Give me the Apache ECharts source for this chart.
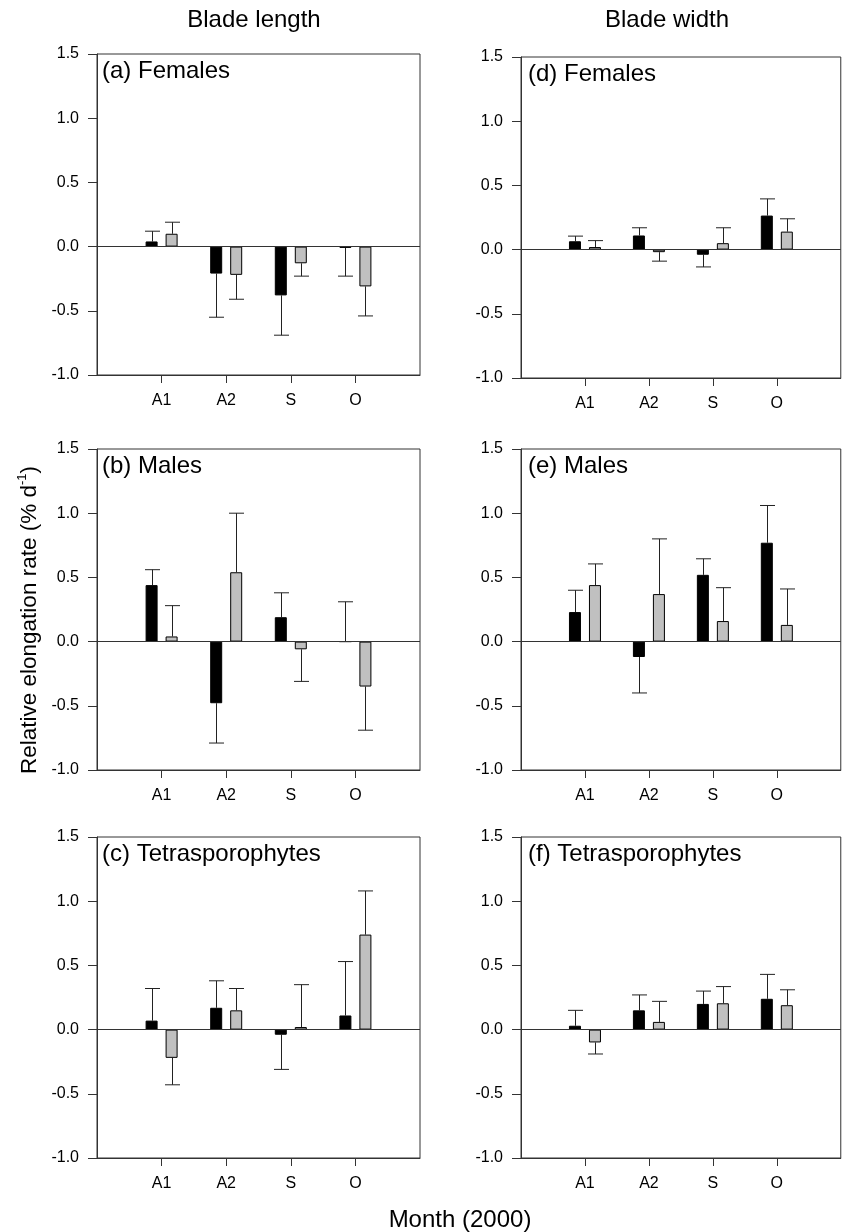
<!DOCTYPE html>
<html>
<head>
<meta charset="utf-8">
<script src="https://cdn.jsdelivr.net/npm/echarts@6/dist/echarts.min.js"></script>
<style>
  html, body { margin: 0; padding: 0; background: #fff; }
  #main { width: 846px; height: 1232px; }
</style>
</head>
<body>
<div id="main"></div>
<script>
var months = ['A1', 'A2', 'S', 'O'];

// blade length (left column): black bars / grey bars, and their error bars
var lenFemBlack = [0.04, -0.21, -0.38, -0.01];
var lenFemBlackErr = [0.08, 0.34, 0.31, 0.22];
var lenFemGrey = [0.10, -0.22, -0.13, -0.31];
var lenFemGreyErr = [0.09, 0.19, 0.10, 0.23];

var lenMaleBlack = [0.44, -0.48, 0.19, 0.00];
var lenMaleBlackErr = [0.12, 0.31, 0.19, 0.31];
var lenMaleGrey = [0.04, 0.54, -0.06, -0.35];
var lenMaleGreyErr = [0.24, 0.46, 0.25, 0.34];

var lenTetBlack = [0.07, 0.17, -0.04, 0.11];
var lenTetBlackErr = [0.25, 0.21, 0.27, 0.42];
var lenTetGrey = [-0.22, 0.15, 0.02, 0.74];
var lenTetGreyErr = [0.21, 0.17, 0.33, 0.34];

// blade width (right column)
var widFemBlack = [0.065, 0.11, -0.04, 0.265];
var widFemBlackErr = [0.04, 0.06, 0.095, 0.13];
var widFemGrey = [0.02, -0.02, 0.05, 0.14];
var widFemGreyErr = [0.05, 0.07, 0.12, 0.10];

var widMaleBlack = [0.23, -0.12, 0.52, 0.77];
var widMaleBlackErr = [0.17, 0.28, 0.125, 0.29];
var widMaleGrey = [0.44, 0.37, 0.16, 0.13];
var widMaleGreyErr = [0.165, 0.43, 0.26, 0.28];

var widTetBlack = [0.03, 0.15, 0.20, 0.24];
var widTetBlackErr = [0.12, 0.12, 0.10, 0.19];
var widTetGrey = [-0.10, 0.06, 0.205, 0.19];
var widTetGreyErr = [0.09, 0.16, 0.13, 0.12];

var yTicks = [-1.0, -0.5, 0.0, 0.5, 1.0, 1.5];

var panels = [
  { label: '(a) Females', grid: { left: 97, top: 54, width: 323, height: 321 }, black: lenFemBlack, blackErr: lenFemBlackErr, grey: lenFemGrey, greyErr: lenFemGreyErr },
  { label: '(b) Males', grid: { left: 97, top: 449, width: 323, height: 321 }, black: lenMaleBlack, blackErr: lenMaleBlackErr, grey: lenMaleGrey, greyErr: lenMaleGreyErr },
  { label: '(c) Tetrasporophytes', grid: { left: 97, top: 837, width: 323, height: 321 }, black: lenTetBlack, blackErr: lenTetBlackErr, grey: lenTetGrey, greyErr: lenTetGreyErr },
  { label: '(d) Females', grid: { left: 521, top: 57, width: 322, height: 321 }, black: widFemBlack, blackErr: widFemBlackErr, grey: widFemGrey, greyErr: widFemGreyErr },
  { label: '(e) Males', grid: { left: 521, top: 449, width: 322, height: 321 }, black: widMaleBlack, blackErr: widMaleBlackErr, grey: widMaleGrey, greyErr: widMaleGreyErr },
  { label: '(f) Tetrasporophytes', grid: { left: 521, top: 837, width: 322, height: 321 }, black: widTetBlack, blackErr: widTetBlackErr, grey: widTetGrey, greyErr: widTetGreyErr }
];

var FONT = '"Liberation Sans", Arial, sans-serif';
var AXIS = '#333';
var BAR_W = 12;
var BAR_GAP_PX = 8;
var CAP = 7.5;

// empty slots at both ends so A1..O sit at 1/5 .. 4/5 of the box
var cats = [''].concat(months).concat([' ']);

function pad(arr) {
  return ['-'].concat(arr).concat(['-']);
}

function errData(vals, errs) {
  return vals.map(function (v, i) { return [i + 1, v, errs[i]]; });
}

function errSeries(idx, vals, errs, side) {
  return {
    type: 'custom',
    xAxisIndex: idx,
    yAxisIndex: idx,
    z: 1,
    silent: true,
    data: errData(vals, errs),
    renderItem: function (params, api) {
      var v = api.value(1);
      var e = api.value(2);
      var dir = v >= 0 ? 1 : -1;
      var p0 = api.coord([api.value(0), v]);
      var p1 = api.coord([api.value(0), v + dir * e]);
      var cx = Math.round(p0[0] + side * (BAR_W / 2 + BAR_GAP_PX / 2)) + 0.5;
      var st = { stroke: '#222', lineWidth: 1 };
      return {
        type: 'group',
        children: [
          { type: 'line', shape: { x1: cx, y1: p0[1], x2: cx, y2: p1[1] }, style: st },
          { type: 'line', shape: { x1: cx - CAP, y1: p1[1], x2: cx + CAP, y2: p1[1] }, style: st }
        ]
      };
    }
  };
}

var grids = [], xAxes = [], yAxes = [], series = [], graphics = [];

panels.forEach(function (p, i) {
  grids.push({
    left: p.grid.left, top: p.grid.top, width: p.grid.width, height: p.grid.height,
    show: true, borderColor: AXIS, borderWidth: 1, backgroundColor: 'transparent'
  });
  xAxes.push({
    type: 'category',
    gridIndex: i,
    data: cats,
    boundaryGap: false,
    axisLine: { onZero: false, lineStyle: { color: AXIS, width: 1 } },
    axisTick: {
      length: 8,
      lineStyle: { color: AXIS },
      interval: function (idx) { return idx >= 1 && idx <= 4; }
    },
    axisLabel: {
      interval: 0, margin: 18, color: '#000', fontSize: 16, fontFamily: FONT
    },
    splitLine: { show: false }
  });
  yAxes.push({
    type: 'value',
    gridIndex: i,
    min: yTicks[0],
    max: yTicks[yTicks.length - 1],
    interval: 0.5,
    axisLine: { show: true, onZero: false, lineStyle: { color: AXIS, width: 1 } },
    axisTick: { show: true, length: 9, lineStyle: { color: AXIS } },
    axisLabel: {
      margin: 18, color: '#000', fontSize: 16, fontFamily: FONT,
      formatter: function (v) { return v.toFixed(1); }
    },
    splitLine: { show: false }
  });
  series.push({
    type: 'bar',
    xAxisIndex: i,
    yAxisIndex: i,
    data: pad(p.black),
    barWidth: BAR_W,
    barGap: (BAR_GAP_PX / BAR_W * 100) + '%',
    z: 2,
    itemStyle: { color: '#000', borderColor: '#000', borderWidth: 1 },
    markLine: {
      silent: true,
      symbol: ['none', 'none'],
      label: { show: false },
      lineStyle: { color: AXIS, width: 1, type: 'solid' },
      data: [{ yAxis: 0 }]
    }
  });
  series.push({
    type: 'bar',
    xAxisIndex: i,
    yAxisIndex: i,
    data: pad(p.grey),
    barWidth: BAR_W,
    z: 2,
    itemStyle: { color: '#c0c0c0', borderColor: '#000', borderWidth: 1 }
  });
  series.push(errSeries(i, p.black, p.blackErr, -1));
  series.push(errSeries(i, p.grey, p.greyErr, 1));

  graphics.push({
    type: 'text',
    x: p.grid.left + (i < 3 ? 5 : 7),
    y: p.grid.top + 17,
    style: { text: p.label, fill: '#000', font: '24px ' + FONT, align: 'left', verticalAlign: 'middle' }
  });
});

graphics.push(
  { type: 'text', x: 254, y: 20, style: { text: 'Blade length', fill: '#000', font: '24px ' + FONT, align: 'center', verticalAlign: 'middle' } },
  { type: 'text', x: 667, y: 20, style: { text: 'Blade width', fill: '#000', font: '24px ' + FONT, align: 'center', verticalAlign: 'middle' } },
  { type: 'text', x: 460, y: 1220, style: { text: 'Month (2000)', fill: '#000', font: '24px ' + FONT, align: 'center', verticalAlign: 'middle' } },
  {
    type: 'text',
    x: 30, y: 620,
    rotation: Math.PI / 2,
    style: {
      text: '{n|Relative elongation rate (% d}{s|-1}{n|)}',
      align: 'center', verticalAlign: 'middle',
      rich: {
        n: { fontSize: 22.5, fontFamily: FONT, fill: '#000', lineHeight: 28, verticalAlign: 'middle' },
        s: { fontSize: 13, fontFamily: FONT, fill: '#000', lineHeight: 14, verticalAlign: 'top' }
      }
    }
  }
);

var chart = echarts.init(document.getElementById('main'), null, { renderer: 'canvas' });
chart.setOption({
  animation: false,
  backgroundColor: '#fff',
  grid: grids,
  xAxis: xAxes,
  yAxis: yAxes,
  series: series,
  graphic: graphics
});
</script>
</body>
</html>
